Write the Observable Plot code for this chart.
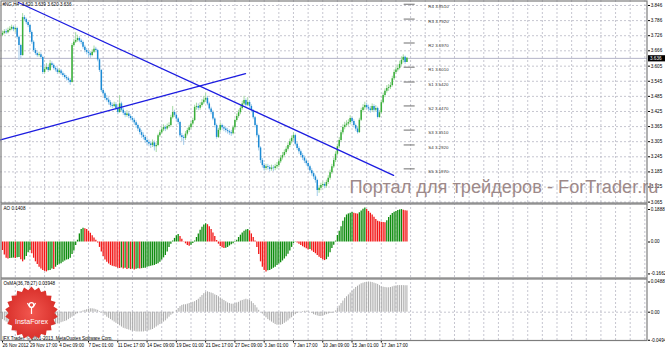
<!DOCTYPE html>
<html><head><meta charset="utf-8">
<script src="https://cdn.jsdelivr.net/npm/d3@7"></script>
<script src="https://cdn.jsdelivr.net/npm/@observablehq/plot@0.6"></script>
<style>
html,body{margin:0;padding:0;background:#fff;}
#chart{position:relative;width:665px;height:350px;overflow:hidden;background:#fff;}
</style></head><body><div id="chart"></div>
<script>
const FONT = "Liberation Sans, Arial, sans-serif";
const symbolLabel = "#NG,H4  3.620 3.639 3.620 3.636";
const aoLabel = "AO 0.1408";
const osmaLabel = "OsMA(36,78,27) 0.03948";
const watermark = "Портал для трейдеров - ForTrader.ru";
const copyright = "IFX Trader, © 2001-2013, MetaQuotes Software Corp.";
const logoText = "InstaForex";

const firstOpen = 3.728;
const closes = [
3.735,3.742,3.738,3.747,3.752,3.759,3.750,3.755,3.720,3.687,
3.647,3.798,3.790,3.778,3.767,3.739,3.700,3.667,3.655,3.647,
3.650,3.639,3.580,3.592,3.600,3.588,3.615,3.608,3.596,3.590,
3.580,3.586,3.575,3.568,3.560,3.555,3.548,3.540,3.687,3.700,
3.707,3.715,3.705,3.699,3.680,3.667,3.660,3.655,3.647,3.660,
3.672,3.667,3.630,3.588,3.508,3.495,3.477,3.470,3.460,3.449,
3.445,3.452,3.437,3.421,3.455,3.430,3.418,3.409,3.415,3.405,
3.397,3.390,3.380,3.369,3.355,3.341,3.330,3.322,3.310,3.302,
3.296,3.290,3.300,3.285,3.290,3.329,3.340,3.352,3.361,3.355,
3.365,3.369,3.400,3.421,3.410,3.395,3.381,3.329,3.322,3.318,
3.335,3.349,3.360,3.375,3.389,3.441,3.445,3.438,3.449,3.460,
3.470,3.477,3.455,3.435,3.421,3.395,3.369,3.322,3.350,3.369,
3.360,3.355,3.349,3.345,3.340,3.337,3.360,3.389,3.405,3.420,
3.437,3.455,3.469,3.450,3.461,3.445,3.429,3.400,3.369,3.329,
3.280,3.230,3.210,3.198,3.205,3.202,3.195,3.200,3.198,3.205,
3.210,3.225,3.240,3.250,3.262,3.275,3.290,3.305,3.318,3.329,
3.295,3.278,3.265,3.250,3.240,3.228,3.218,3.205,3.190,3.178,
3.165,3.151,3.111,3.120,3.131,3.135,3.128,3.143,3.160,3.182,
3.205,3.230,3.255,3.285,3.310,3.340,3.361,3.370,3.375,3.381,
3.397,3.385,3.369,3.355,3.341,3.390,3.429,3.440,3.449,3.440,
3.435,3.429,3.445,3.430,3.437,3.401,3.420,3.460,3.488,3.505,
3.516,3.520,3.528,3.555,3.580,3.590,3.596,3.612,3.628,3.640,
3.620,3.636];
const highs = [
3.744,3.750,3.752,3.756,3.762,3.768,3.765,3.762,3.760,3.725,
3.692,3.814,3.806,3.796,3.785,3.772,3.745,3.706,3.675,3.662,
3.660,3.658,3.645,3.600,3.615,3.610,3.628,3.622,3.614,3.603,
3.598,3.595,3.592,3.582,3.575,3.568,3.562,3.555,3.695,3.712,
3.738,3.728,3.722,3.712,3.705,3.688,3.675,3.668,3.662,3.670,
3.685,3.680,3.672,3.635,3.592,3.515,3.502,3.488,3.480,3.468,
3.458,3.462,3.460,3.445,3.488,3.462,3.438,3.425,3.428,3.422,
3.412,3.405,3.398,3.388,3.375,3.362,3.350,3.340,3.330,3.318,
3.312,3.305,3.312,3.308,3.300,3.335,3.350,3.362,3.372,3.368,
3.375,3.380,3.410,3.445,3.430,3.415,3.400,3.386,3.338,3.330,
3.345,3.358,3.370,3.385,3.398,3.450,3.458,3.455,3.460,3.472,
3.485,3.496,3.485,3.462,3.442,3.428,3.400,3.375,3.358,3.380,
3.375,3.368,3.362,3.358,3.352,3.350,3.368,3.395,3.415,3.430,
3.448,3.466,3.485,3.475,3.480,3.468,3.452,3.432,3.405,3.375,
3.335,3.285,3.238,3.218,3.215,3.215,3.210,3.212,3.210,3.215,
3.222,3.235,3.250,3.262,3.272,3.285,3.300,3.315,3.328,3.341,
3.335,3.302,3.285,3.272,3.258,3.248,3.236,3.225,3.212,3.198,
3.185,3.172,3.156,3.130,3.140,3.145,3.142,3.152,3.170,3.192,
3.215,3.240,3.265,3.295,3.322,3.350,3.372,3.382,3.388,3.392,
3.408,3.402,3.392,3.375,3.362,3.398,3.438,3.452,3.462,3.458,
3.450,3.445,3.455,3.452,3.448,3.442,3.428,3.470,3.498,3.515,
3.528,3.532,3.540,3.565,3.590,3.602,3.610,3.625,3.642,3.650,
3.645,3.639];
const lows = [
3.722,3.730,3.731,3.733,3.741,3.746,3.742,3.738,3.712,3.628,
3.635,3.645,3.782,3.770,3.758,3.732,3.692,3.660,3.648,3.640,
3.641,3.632,3.572,3.574,3.588,3.580,3.584,3.598,3.589,3.582,
3.572,3.575,3.568,3.560,3.553,3.546,3.538,3.528,3.538,3.680,
3.695,3.700,3.698,3.690,3.672,3.658,3.650,3.640,3.636,3.642,
3.655,3.658,3.622,3.580,3.500,3.485,3.468,3.462,3.450,3.440,
3.436,3.440,3.430,3.412,3.418,3.424,3.410,3.400,3.402,3.396,
3.388,3.380,3.370,3.358,3.345,3.332,3.318,3.312,3.298,3.290,
3.285,3.278,3.282,3.268,3.262,3.285,3.322,3.335,3.345,3.345,
3.350,3.358,3.362,3.395,3.402,3.385,3.372,3.320,3.305,3.290,
3.310,3.328,3.342,3.352,3.368,3.385,3.430,3.428,3.430,3.442,
3.452,3.462,3.448,3.428,3.412,3.388,3.360,3.315,3.318,3.342,
3.350,3.345,3.340,3.335,3.330,3.326,3.332,3.355,3.382,3.398,
3.412,3.430,3.448,3.442,3.445,3.436,3.420,3.392,3.360,3.320,
3.268,3.218,3.200,3.188,3.190,3.192,3.185,3.188,3.186,3.190,
3.196,3.202,3.218,3.232,3.244,3.255,3.268,3.282,3.296,3.310,
3.288,3.270,3.255,3.242,3.230,3.218,3.208,3.196,3.180,3.168,
3.155,3.140,3.087,3.100,3.110,3.122,3.118,3.120,3.135,3.152,
3.175,3.198,3.222,3.248,3.278,3.302,3.332,3.352,3.362,3.366,
3.372,3.376,3.360,3.346,3.335,3.338,3.385,3.420,3.430,3.432,
3.425,3.418,3.422,3.420,3.422,3.395,3.398,3.415,3.455,3.480,
3.498,3.505,3.512,3.522,3.548,3.572,3.582,3.590,3.605,3.618,
3.612,3.620];
const aoValues = [
-0.047,-0.072,-0.090,-0.094,-0.092,-0.090,-0.089,-0.091,-0.088,-0.086,
-0.098,-0.110,-0.100,-0.080,-0.060,-0.048,-0.065,-0.090,-0.110,-0.125,
-0.140,-0.150,-0.158,-0.163,-0.166,-0.160,-0.158,-0.150,-0.152,-0.140,
-0.130,-0.124,-0.120,-0.112,-0.105,-0.100,-0.098,-0.090,-0.070,-0.050,
-0.020,0.010,0.045,0.070,0.076,0.074,0.070,0.060,0.048,0.035,
0.022,0.010,-0.005,-0.030,-0.055,-0.080,-0.100,-0.112,-0.122,-0.130,
-0.135,-0.138,-0.140,-0.145,-0.147,-0.144,-0.150,-0.146,-0.152,-0.148,
-0.153,-0.150,-0.155,-0.151,-0.149,-0.150,-0.148,-0.146,-0.145,-0.140,
-0.138,-0.135,-0.132,-0.130,-0.125,-0.120,-0.112,-0.100,-0.088,-0.075,
-0.055,-0.030,-0.012,0.005,0.020,0.035,0.042,0.030,0.015,0.002,
-0.010,-0.020,-0.024,-0.018,-0.008,0.005,0.025,0.045,0.065,0.082,
0.095,0.101,0.096,0.085,0.070,0.050,0.030,0.008,-0.012,-0.025,
-0.032,-0.036,-0.034,-0.030,-0.022,-0.015,-0.010,-0.003,0.010,0.025,
0.038,0.050,0.060,0.066,0.070,0.062,0.045,0.025,0.005,-0.030,
-0.070,-0.110,-0.140,-0.158,-0.166,-0.160,-0.158,-0.152,-0.146,-0.140,
-0.130,-0.122,-0.115,-0.105,-0.095,-0.082,-0.068,-0.050,-0.030,-0.008,
0.002,-0.005,-0.012,-0.020,-0.026,-0.032,-0.038,-0.045,-0.042,-0.050,
-0.058,-0.065,-0.075,-0.085,-0.092,-0.098,-0.103,-0.098,-0.085,-0.060,
-0.036,-0.018,0.005,0.036,0.060,0.085,0.115,0.135,0.150,0.156,
0.160,0.164,0.160,0.157,0.155,0.162,0.172,0.182,0.1888,0.180,
0.170,0.160,0.150,0.138,0.125,0.115,0.112,0.110,0.108,0.107,
0.118,0.136,0.148,0.158,0.165,0.170,0.175,0.178,0.180,0.176,
0.174,0.172];
const osmaValues = [
-0.012,-0.014,-0.016,-0.018,-0.020,-0.022,-0.023,-0.024,-0.025,-0.026,
-0.027,-0.026,-0.026,-0.025,-0.025,-0.025,-0.026,-0.027,-0.028,-0.028,
-0.028,-0.027,-0.027,-0.026,-0.025,-0.024,-0.023,-0.022,-0.021,-0.020,
-0.019,-0.018,-0.017,-0.016,-0.015,-0.014,-0.012,-0.010,-0.008,-0.006,
-0.004,-0.0025,-0.001,0.001,0.002,0.003,0.004,0.005,0.0055,0.0055,
0.005,0.004,0.003,0.001,-0.001,-0.003,-0.005,-0.008,-0.010,-0.012,
-0.014,-0.016,-0.018,-0.020,-0.022,-0.024,-0.026,-0.027,-0.028,-0.029,
-0.030,-0.031,-0.031,-0.032,-0.032,-0.032,-0.032,-0.032,-0.031,-0.031,
-0.030,-0.029,-0.028,-0.026,-0.024,-0.022,-0.020,-0.018,-0.016,-0.014,
-0.011,-0.008,-0.005,-0.003,0.000,0.003,0.006,0.009,0.011,0.012,
0.012,0.013,0.014,0.015,0.016,0.017,0.019,0.021,0.024,0.027,
0.030,0.032,0.033,0.032,0.031,0.030,0.028,0.027,0.025,0.023,
0.021,0.019,0.017,0.015,0.014,0.013,0.013,0.014,0.015,0.016,
0.018,0.019,0.020,0.021,0.020,0.019,0.017,0.014,0.011,0.007,
0.003,0.000,-0.003,-0.006,-0.009,-0.012,-0.014,-0.016,-0.018,-0.020,
-0.021,-0.021,-0.021,-0.020,-0.018,-0.016,-0.014,-0.011,-0.009,-0.006,
-0.004,-0.002,-0.001,0.000,0.001,0.0015,0.0015,0.001,0.000,-0.002,
-0.004,-0.005,-0.006,-0.007,-0.007,-0.006,-0.005,-0.004,-0.003,-0.002,
-0.002,-0.001,0.002,0.006,0.010,0.014,0.018,0.022,0.025,0.028,
0.031,0.034,0.037,0.040,0.042,0.044,0.046,0.047,0.048,0.0485,
0.04887,0.0485,0.048,0.047,0.046,0.045,0.043,0.041,0.0405,0.040,
0.0395,0.0395,0.040,0.041,0.042,0.0425,0.043,0.043,0.043,0.043,
0.0428,0.0428];

const priceTicks = [3.846,3.786,3.726,3.666,3.605,3.545,3.485,3.425,3.365,3.305,3.245,3.185,3.125,3.065];
const aoTicks = [0.1888, 0, -0.1662];
const aoTickLabels = ["0.1888","0.00","-0.1662"];
const osmaTicks = [0.04887, 0, -0.04943];
const osmaTickLabels = ["0.04887","0.00","-0.04943"];
const dateLabels = ["26 Nov 2012","29 Nov 17:00","4 Dec 09:00","7 Dec 01:00","11 Dec 17:00","14 Dec 09:00","19 Dec 01:00","21 Dec 17:00","27 Dec 09:00","3 Jan 01:00","7 Jan 17:00","10 Jan 09:00","15 Jan 01:00","17 Jan 17:00"];
const dateBars = [0,15,31,47,63,79,95,111,127,143,159,175,191,207];
const pivotNames = ["R4","R3","R2","R1","S1","S2","S3","S4","S5"];
const pivotValues = [3.8510,3.7920,3.6970,3.6010,3.5420,3.4470,3.3510,3.2920,3.1970];
const trendDown = [{i:8.7, p:3.858},{i:213.7, p:3.171}];
const trendUp = [{i:-1.1, p:3.312},{i:132.8, p:3.575}];

// ---------- derived tables ----------
const N = closes.length;
const bars = closes.map((c, i) => ({i, open: i ? closes[i-1] : firstOpen, close: c, high: highs[i], low: lows[i]}));
bars.forEach(d => d.up = d.close >= d.open);
const aoData = aoValues.map((v, i) => ({i, v, up: i > 0 && v > aoValues[i-1]}));
const osmaData = osmaValues.map((v, i) => ({i, v}));
const pivots = pivotNames.map((n, k) => ({name: n, value: pivotValues[k]}));
const gridBars = d3.range(7, 352, 8);
const last = N - 1;

const W = 665, FR = 647;
const xScale = {domain: [-2/1.83, (FR-2)/1.83], range: [0, FR]};
const gridStyle = {stroke: "#b8b8c4", strokeOpacity: 1, strokeDasharray: "2,2", strokeWidth: 0.8};
const frameStyle = {stroke: "#7d7d7d", strokeWidth: 1.2, inset: 0.5};
const txt = {fontSize: 4.6, fill: "#000", label: null};
const baseStyle = {fontFamily: FONT, fontSize: "4.6px", background: "transparent", overflow: "visible"};

function rightAxis(ticks, labels, dys) {
  return ticks.map((t, k) => Plot.axisY([t], {anchor: "right", tickSize: 2, tickPadding: 1.2, dy: dys[k],
    tickFormat: () => labels[k], ...txt}));
}

// ---------- main price panel ----------
const main = Plot.plot({
  width: W, height: 203, marginTop: 0, marginBottom: 0, marginLeft: 0, marginRight: W - FR,
  x: {...xScale, axis: null},
  y: {domain: [3.065, 3.846], range: [201.6, 5.0]},
  style: baseStyle,
  marks: [
    Plot.ruleY(priceTicks, {y: d => d, ...gridStyle}),
    Plot.ruleX(gridBars, {x: d => d, ...gridStyle}),
    Plot.ruleY([closes[last]], {y: d => d, stroke: "#b4b4c8", strokeWidth: 1}),
    Plot.ruleX(bars, {x: "i", y1: "low", y2: "high", stroke: d => d.up ? "#a4d9a4" : "#a3cdeb", strokeWidth: 1}),
    Plot.ruleX(bars, {x: "i", y1: "open", y2: "close", stroke: d => d.up ? "#3aae3a" : "#1b8ad4", strokeWidth: 1.5}),
    Plot.line(trendDown, {x: "i", y: "p", stroke: "#1c1ce0", strokeWidth: 1.3}),
    Plot.line(trendUp, {x: "i", y: "p", stroke: "#1c1ce0", strokeWidth: 1.3}),
    Plot.ruleY(pivots, {y: "value", x1: last - 1.5, x2: last + 4.5, stroke: "#6e6e6e", strokeWidth: 1}),
    Plot.text(pivots, {x: last + 11.7, y: "value", text: d => d.name + " " + d.value.toFixed(4), textAnchor: "start", dy: 2.3, fontSize: 4.4, fill: "#333", fontFamily: FONT}),
    Plot.axisY(priceTicks, {anchor: "right", tickSize: 2, tickPadding: 1.2, tickFormat: d => d.toFixed(3), ...txt}),
    Plot.text([watermark], {frameAnchor: "bottom-left", dx: 349, dy: -11, lineAnchor: "bottom", textAnchor: "start", fontSize: 18, fill: "#9d8989", fontFamily: FONT}),
    Plot.text([symbolLabel], {frameAnchor: "top-left", dx: 2, dy: 2, lineAnchor: "top", textAnchor: "start", fontSize: 4.6, fill: "#000", fontFamily: FONT}),
    Plot.frame(frameStyle)
  ]
});

// ---------- AO panel ----------
const ao = Plot.plot({
  width: W, height: 75, marginTop: 0, marginBottom: 0, marginLeft: 0, marginRight: W - FR,
  x: {...xScale, axis: null},
  y: {domain: [-0.1662, 0.1888], range: [68.45, 4.5]},
  style: baseStyle,
  marks: [
    Plot.ruleX(gridBars, {x: d => d, ...gridStyle}),
    Plot.ruleX(aoData, {x: "i", y1: 0, y2: "v", stroke: d => d.up ? "#0e8c0e" : "#f21818", strokeWidth: 1.3}),
    ...rightAxis(aoTicks, aoTickLabels, [1.5, 0, 2]),
    Plot.text([aoLabel], {frameAnchor: "top-left", dx: 3, dy: 3, lineAnchor: "top", textAnchor: "start", fontSize: 4.6, fill: "#000", fontFamily: FONT}),
    Plot.frame(frameStyle)
  ]
});

// ---------- OsMA panel ----------
const osma = Plot.plot({
  width: W, height: 72, marginTop: 0, marginBottom: 9.5, marginLeft: 0, marginRight: W - FR,
  x: {...xScale},
  y: {domain: [-0.04943, 0.04887], range: [64.25, 3.5]},
  style: baseStyle,
  marks: [
    Plot.ruleX(gridBars, {x: d => d, ...gridStyle}),
    Plot.ruleY([0], {y: d => d, ...gridStyle}),
    Plot.ruleX(osmaData, {x: "i", y1: 0, y2: "v", stroke: "#ababab", strokeWidth: 1}),
    ...rightAxis(osmaTicks, osmaTickLabels, [0, 0, -2.5]),
    Plot.axisX(dateBars, {anchor: "bottom", tickSize: 2, tickPadding: 1, textAnchor: "start", tickFormat: d => dateLabels[dateBars.indexOf(d)], ...txt}),
    Plot.text([osmaLabel], {frameAnchor: "top-left", dx: 3, dy: 3, lineAnchor: "top", textAnchor: "start", fontSize: 4.6, fill: "#000", fontFamily: FONT}),
    Plot.text([copyright], {frameAnchor: "bottom-left", dx: 2, dy: -1, lineAnchor: "bottom", textAnchor: "start", fontSize: 4.6, fill: "#000", fontFamily: FONT}),
    Plot.frame(frameStyle)
  ]
});

const container = document.getElementById("chart");
[[main, 0], [ao, 203], [osma, 278]].forEach(([el, top]) => {
  el.style.position = "absolute"; el.style.left = "0px"; el.style.top = top + "px";
  container.appendChild(el);
});

// ---------- decorations (non-data) ----------
const ms = d3.select(main);
ms.selectAll("text").filter(function() { return this.textContent === watermark; })
  .attr("textLength", 309).attr("lengthAdjust", "spacingAndGlyphs");
ms.append("rect").attr("x", 648).attr("y", 55.2).attr("width", 17).attr("height", 6.2).attr("fill", "#000");
ms.append("text").attr("x", 650).attr("y", 60).attr("text-anchor", "start").attr("font-size", 4.6)
  .attr("font-family", FONT).attr("fill", "#fff").text(closes[last].toFixed(3));

const os = d3.select(osma);
const defs = os.append("defs");
const grad = defs.append("radialGradient").attr("id", "lg");
grad.append("stop").attr("offset", "0%").attr("stop-color", "#f2574f");
grad.append("stop").attr("offset", "100%").attr("stop-color", "#d9302b");
const cx = 31.5, cy = 35;
const star = d3.range(44).map(k => { const a = k * Math.PI / 22; const r = k % 2 ? 23 : 26.5; return [cx + r * Math.sin(a), cy - r * Math.cos(a)]; });
os.append("path").attr("d", "M" + star.join("L") + "Z").attr("fill", "url(#lg)");
os.append("circle").attr("cx", cx).attr("cy", cy - 8).attr("r", 2.3).attr("fill", "none").attr("stroke", "#fff").attr("stroke-width", 1.2);
os.append("path").attr("d", `M${cx-4},${cy-10} Q${cx},${cy-1} ${cx+4},${cy-10} M${cx},${cy-5} L${cx},${cy+1}`).attr("fill", "none").attr("stroke", "#fff").attr("stroke-width", 1.2);
os.append("text").attr("x", cx).attr("y", cy + 11).attr("text-anchor", "middle").attr("font-size", 7).attr("font-family", FONT).attr("fill", "#fff").text(logoText);
</script></body></html>
